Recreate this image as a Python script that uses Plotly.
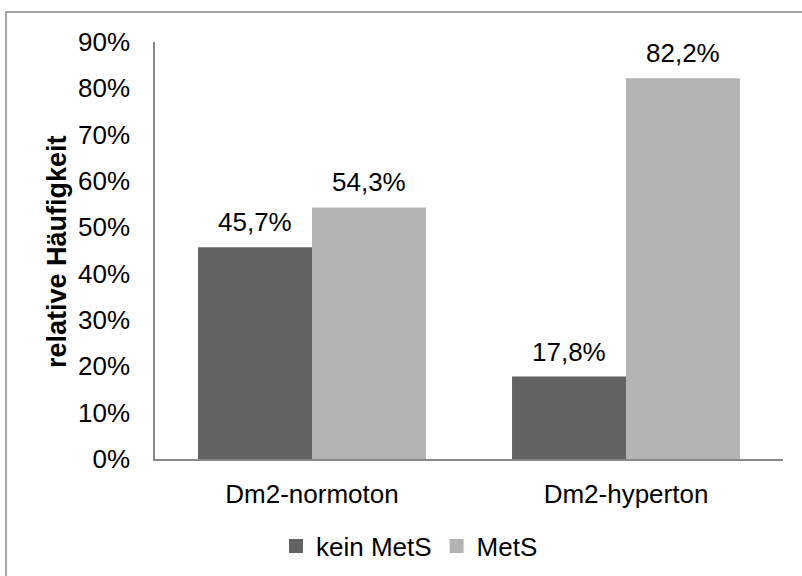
import plotly.graph_objects as go

categories = ["Dm2-normoton", "Dm2-hyperton"]
series_names = ["kein MetS", "MetS"]
kein_mets = [0.457, 0.178]
mets = [0.543, 0.822]
y_ticks = [0, 0.1, 0.2, 0.3, 0.4, 0.5, 0.6, 0.7, 0.8, 0.9]

colors = ["#636363", "#b3b3b3"]
font_family = "Liberation Sans, Arial, sans-serif"
fs = 26
bargap = 0.274

fig = go.Figure()
for name, vals, col in zip(series_names, [kein_mets, mets], colors):
    fig.add_trace(go.Bar(x=categories, y=vals, name=name, marker_color=col,
                         marker_line_width=0, showlegend=False))
    # square legend keys
    fig.add_trace(go.Scatter(x=[None], y=[None], mode="markers", name=name,
                             marker=dict(symbol="square", size=14, color=col)))

# value labels above each bar
bar_w = (1 - bargap) / 2
annotations = []
for k, vals in enumerate([kein_mets, mets]):
    off = (k - 0.5) * bar_w
    for i, v in enumerate(vals):
        annotations.append(dict(
            x=i + off, y=v, xref="x", yref="y", yshift=25,
            text=f"{v * 100:.1f}%".replace(".", ","), showarrow=False,
            font=dict(size=fs, color="black", family=font_family),
            xanchor="center", yanchor="middle"))

W, H = 802, 576
L, R, T, B = 155, 19, 42, 117
pw, ph = W - L - R, H - T - B

annotations.append(dict(
    x=(57 - L) / pw, y=(459 - 252) / ph, xref="paper", yref="paper",
    text="<b>relative Häufigkeit</b>", textangle=-90, showarrow=False,
    font=dict(size=27, color="black", family=font_family),
    xanchor="center", yanchor="middle"))

fig.update_layout(
    width=W, height=H,
    margin=dict(l=L, r=R, t=T, b=B, autoexpand=False),
    paper_bgcolor="white", plot_bgcolor="white",
    barmode="group", bargap=bargap, bargroupgap=0,
    font=dict(family=font_family, size=fs, color="black"),
    annotations=annotations,
    legend=dict(orientation="h", x=(276 - L) / pw, xanchor="left",
                y=-(546 - (T + ph)) / ph, yanchor="middle",
                font=dict(size=fs), itemwidth=30, bgcolor="rgba(0,0,0,0)"),
    xaxis=dict(showline=True, linecolor="#888888", linewidth=1.5,
               showgrid=False, ticks="", ticklabelstandoff=11,
               tickfont=dict(size=fs)),
    yaxis=dict(range=[0, 0.9], tickvals=y_ticks, tickformat=".0%",
               showline=True, linecolor="#888888", linewidth=1.5,
               showgrid=False, zeroline=False, ticks="",
               ticklabelstandoff=18, tickfont=dict(size=fs)),
    shapes=[dict(type="rect", xref="paper", yref="paper",
                 x0=(6 - L) / pw, x1=(815 - L) / pw,
                 y0=-(590 - (T + ph)) / ph, y1=1 + (T - 12) / ph,
                 line=dict(color="#8a8a8a", width=1.5), layer="below")],
)

fig.write_html("out.html")
